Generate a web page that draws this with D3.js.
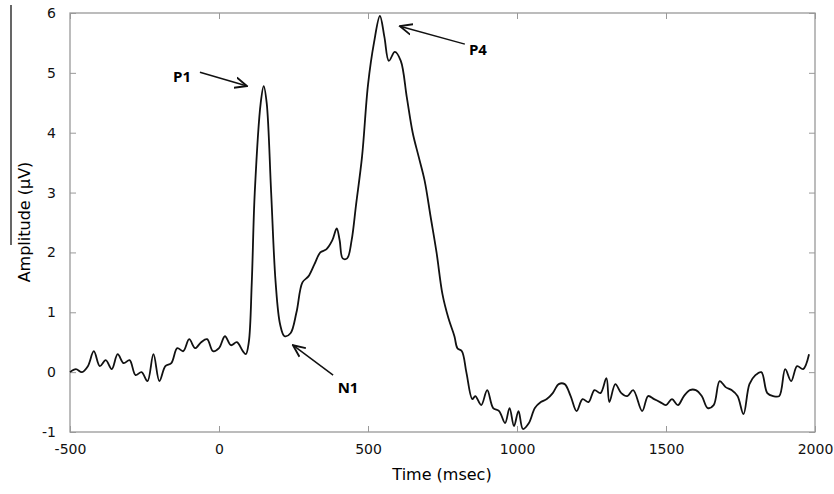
<!DOCTYPE html>
<html><head><meta charset="utf-8">
<script src="https://cdn.jsdelivr.net/npm/d3@7"></script>
<style>body{margin:0;background:#fff}</style>
</head><body>
<script>
// ERP waveform (msec, µV)
let times = [-500,-480,-460,-440,-420,-400,-380,-360,-340,-320,-300,-280,-260,-240,-220,-200,-180,-160,-140,-120,-100,-80,-60,-40,-20,0,20,40,60,80,90,100,110,120,140,150,160,175,190,205,220,240,260,280,300,320,340,360,380,395,405,415,430,445,460,480,500,520,540,555,570,590,610,630,650,670,690,710,730,750,770,790,800,815,830,850,860,880,900,920,940,960,975,990,1005,1020,1040,1060,1080,1100,1120,1140,1160,1180,1200,1220,1240,1260,1280,1300,1310,1330,1350,1370,1390,1420,1440,1460,1480,1500,1520,1540,1560,1580,1600,1620,1640,1660,1680,1700,1720,1740,1760,1780,1800,1820,1840,1860,1880,1900,1920,1940,1960,1980];
let amps = [0,0.05,0,0.1,0.35,0.1,0.2,0.05,0.3,0.15,0.2,-0.05,0,-0.15,0.3,-0.15,0.1,0.15,0.4,0.35,0.55,0.4,0.5,0.55,0.35,0.4,0.6,0.45,0.5,0.35,0.3,0.5,1.5,3.0,4.5,4.78,4.5,3.0,1.5,0.8,0.6,0.65,1.0,1.5,1.6,1.8,2.0,2.05,2.2,2.4,2.2,1.9,1.9,2.2,2.8,3.6,4.8,5.5,5.95,5.6,5.2,5.35,5.2,4.6,4.0,3.6,3.2,2.6,2.0,1.3,0.9,0.6,0.4,0.35,0,-0.45,-0.4,-0.55,-0.3,-0.6,-0.65,-0.85,-0.6,-0.9,-0.65,-0.95,-0.85,-0.6,-0.5,-0.45,-0.35,-0.2,-0.2,-0.4,-0.65,-0.45,-0.5,-0.3,-0.35,-0.1,-0.5,-0.2,-0.35,-0.4,-0.3,-0.65,-0.4,-0.45,-0.5,-0.55,-0.45,-0.55,-0.4,-0.3,-0.3,-0.4,-0.6,-0.55,-0.15,-0.25,-0.3,-0.4,-0.7,-0.2,-0.05,0,-0.35,-0.4,-0.4,0.05,-0.15,0.1,0.05,0.3];
let xTicks = [-500,0,500,1000,1500,2000];
let yTicks = [-1,0,1,2,3,4,5,6];
// annotations: label, label position, arrow from -> to (data units)
let notes = [
  {label:'P1', tx:-124, ty:4.93, x1:-64, y1:5.01, x2:94, y2:4.78},
  {label:'N1', tx:433, ty:-0.26, x1:383, y1:-0.05, x2:248, y2:0.45},
  {label:'P4', tx:869, ty:5.38, x1:825, y1:5.48, x2:607, y2:5.78}
];

let W = 834, H = 494;
let svg = d3.select('body').append('svg').attr('width', W).attr('height', H)
  .style('font-family', '"DejaVu Sans", sans-serif');

let x = d3.scaleLinear().domain([-500, 2000]).range([70, 815]);
let y = d3.scaleLinear().domain([-1, 6]).range([432, 13]);

// frame
svg.append('rect').attr('x', 70).attr('y', 13).attr('width', 745).attr('height', 419)
  .attr('fill', 'none').attr('stroke', '#999').attr('stroke-width', 1.3);

// stray line at far left
svg.append('line').attr('x1', 11).attr('x2', 11).attr('y1', 5).attr('y2', 245)
  .attr('stroke', '#000').attr('stroke-width', 1.2);

// axes with inward ticks
let fmt = d => String(d);
svg.append('g').attr('transform', 'translate(0,432)')
  .call(d3.axisBottom(x).tickValues(xTicks).tickSize(-6).tickPadding(12).tickFormat(fmt));
svg.append('g').attr('transform', 'translate(70,0)')
  .call(d3.axisLeft(y).tickValues(yTicks).tickSize(-6).tickPadding(14).tickFormat(fmt));
svg.append('g').attr('transform', 'translate(0,13)')
  .call(d3.axisTop(x).tickValues(xTicks).tickSize(-6).tickFormat(''));
svg.append('g').attr('transform', 'translate(815,0)')
  .call(d3.axisRight(y).tickValues(yTicks).tickSize(-6).tickFormat(''));
svg.selectAll('.domain').remove();
svg.selectAll('.tick line').attr('stroke', '#999');
svg.selectAll('.tick text').attr('font-size', 14).attr('fill', '#111')
  .style('font-family', '"DejaVu Sans", sans-serif');

// waveform
let pts = times.map((t, i) => [t, amps[i]]);
svg.append('path').datum(pts)
  .attr('fill', 'none').attr('stroke', '#111').attr('stroke-width', 1.8)
  .attr('d', d3.line().x(d => x(d[0])).y(d => y(d[1])).curve(d3.curveCatmullRom));

// arrows
svg.append('defs').append('marker').attr('id', 'ah')
  .attr('viewBox', '0 0 10 10').attr('refX', 9).attr('refY', 5)
  .attr('markerWidth', 9).attr('markerHeight', 9).attr('orient', 'auto')
  .append('path').attr('d', 'M0,1 L9,5 L0,9').attr('fill', 'none').attr('stroke', '#111').attr('stroke-width', 1.4);
notes.forEach(n => {
  svg.append('line').attr('x1', x(n.x1)).attr('y1', y(n.y1)).attr('x2', x(n.x2)).attr('y2', y(n.y2))
    .attr('stroke', '#111').attr('stroke-width', 1.5).attr('marker-end', 'url(#ah)');
  svg.append('text').attr('x', x(n.tx)).attr('y', y(n.ty)).attr('text-anchor', 'middle')
    .attr('dy', '0.35em').attr('font-size', 15).attr('font-weight', 'bold')
    .style('font-family', '"Open Sans", sans-serif').text(n.label);
});

// axis titles
svg.append('text').attr('x', 442).attr('y', 480).attr('text-anchor', 'middle')
  .attr('font-size', 16).text('Time (msec)');
svg.append('text').attr('transform', 'translate(30,222) rotate(-90)').attr('text-anchor', 'middle')
  .attr('font-size', 16).text('Amplitude (µV)');
</script>
</body></html>
